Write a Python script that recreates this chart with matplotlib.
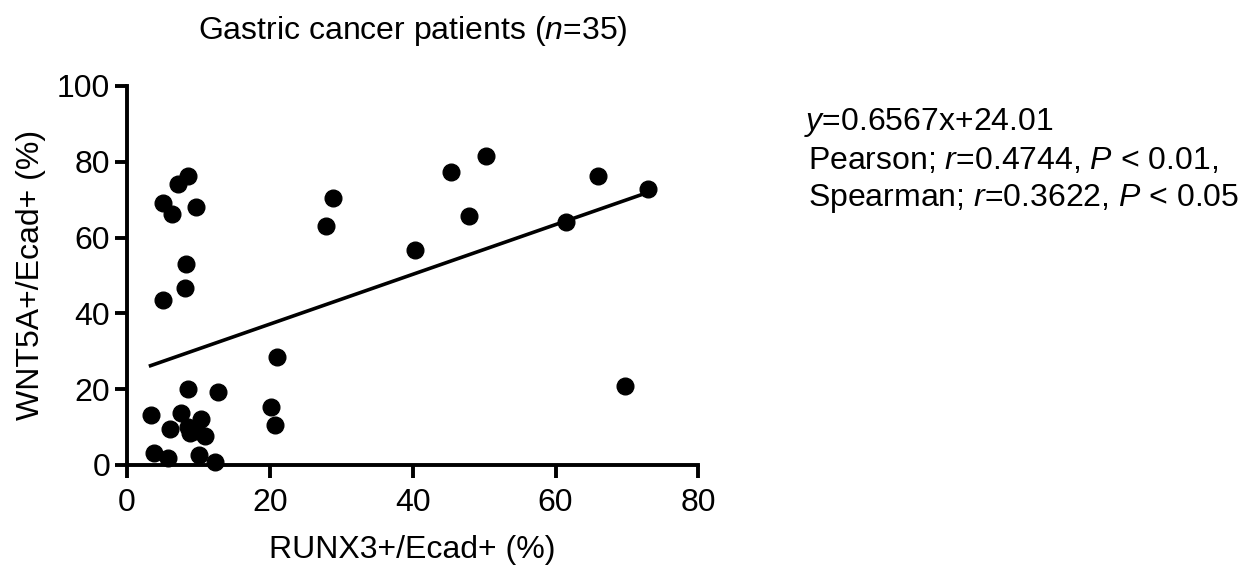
import matplotlib
matplotlib.use('Agg')
import matplotlib.pyplot as plt

plt.rcParams['font.family'] = ['Liberation Sans', 'DejaVu Sans']
plt.rcParams['mathtext.fontset'] = 'custom'
plt.rcParams['mathtext.rm'] = 'Liberation Sans'
plt.rcParams['mathtext.it'] = 'Liberation Sans:italic'

# RUNX3+/Ecad+ (%) and WNT5A+/Ecad+ (%) per patient
runx3 = [3.3, 3.8, 5.7, 5.0, 5.1, 6.3, 6.0, 7.1, 7.6, 8.5, 8.1, 8.3,
         8.5, 8.6, 8.8, 9.6, 9.8, 10.4, 10.9, 10.1, 12.3, 12.8, 20.1,
         20.7, 21.0, 27.8, 28.8, 40.3, 45.4, 47.9, 50.2, 61.5, 65.9,
         69.7, 73.0]
wnt5a = [13.1, 3.1, 1.9, 43.6, 69.2, 66.3, 9.4, 74.1, 13.8, 76.2, 46.6, 53.1,
         20.1, 10.0, 8.5, 68.0, 9.0, 12.2, 7.6, 2.5, 0.8, 19.2, 15.3,
         10.4, 28.5, 63.1, 70.5, 56.7, 77.2, 65.6, 81.5, 64.0, 76.2,
         20.9, 72.9]

slope = 0.6567
intercept = 24.01

fs = 23

fig = plt.figure(figsize=(12.45, 5.69), dpi=100)
ax = fig.add_axes([0.102, 0.183, 0.459, 0.666])

ax.plot(runx3, wnt5a, 'o', color='black', markersize=12, clip_on=False, zorder=3)

x_fit = [min(runx3), max(runx3)]
y_fit = [slope * v + intercept for v in x_fit]
ax.plot(x_fit, y_fit, color='black', linewidth=2.6)

ax.set_xlim(0, 80)
ax.set_ylim(0, 100)
ax.set_xticks([0, 20, 40, 60, 80])
ax.set_yticks([0, 20, 40, 60, 80, 100])
ax.spines['top'].set_visible(False)
ax.spines['right'].set_visible(False)
for side in ['left', 'bottom']:
    ax.spines[side].set_linewidth(2.8)
ax.tick_params(width=2.8, length=9, labelsize=fs)
ax.tick_params(axis='x', pad=8)
ax.tick_params(axis='y', pad=3)

ax.set_xlabel('RUNX3+/Ecad+ (%)', fontsize=fs, labelpad=12)
ax.set_ylabel('WNT5A+/Ecad+ (%)', fontsize=fs, labelpad=8)
ax.set_title('Gastric cancer patients ($\\it{n}$=35)', fontsize=fs, pad=34)

fig.text(0.646, 0.785, '$\\it{y}$=0.6567x+24.01', fontsize=fs, va='center')
fig.text(0.649, 0.717, 'Pearson; $\\it{r}$=0.4744, $\\it{P}$ < 0.01,', fontsize=fs, va='center')
fig.text(0.649, 0.651, 'Spearman; $\\it{r}$=0.3622, $\\it{P}$ < 0.05', fontsize=fs, va='center')

fig.savefig('out.png', dpi=100)
